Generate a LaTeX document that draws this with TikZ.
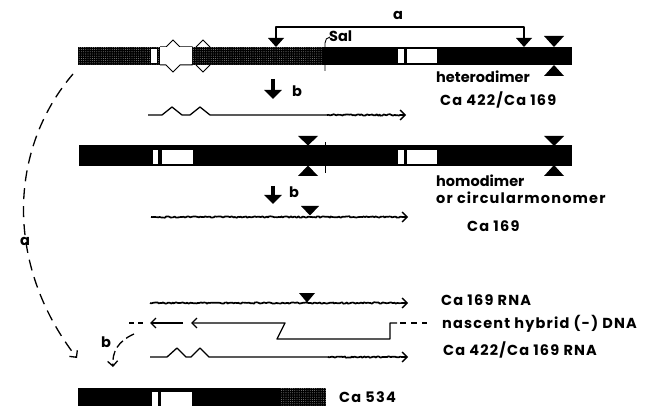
\documentclass[tikz,border=0pt]{standalone}
\usepackage{fontspec}
\setmainfont{Poppins}
\newfontfamily\widefont[LetterSpace=8]{Poppins}
\usetikzlibrary{arrows.meta,decorations.pathmorphing,patterns.meta}
\begin{document}
\begin{tikzpicture}[x=1pt,y=-1pt,
  conn/.style={line width=1.3pt, line join=round},
  tip/.style={-{Straight Barb[length=5pt,width=10pt,line width=1.3pt]}},
  wavy/.style={conn, line width=1.7pt, decorate, decoration={random steps, segment length=1.5pt, amplitude=0.7pt, post length=6pt}},
  bigarr/.style={line width=3.6pt, -{Triangle[length=9pt,width=17pt]}},
  stip/.style={fill=black, postaction={pattern={Dots[distance=2.2pt,radius=0.32pt]}, pattern color=white}},
  lab/.style={font=\bfseries\fontsize{14.5}{16}\selectfont, inner sep=0pt, anchor=base west},
  labw/.style={font=\widefont\bfseries\fontsize{14.5}{16}\selectfont, inner sep=0pt, anchor=base west},
  dashcurve/.style={conn, dash pattern=on 11pt off 7pt},
  trimark/.style={fill=black},
  win/.style={fill=white}
]
\pgfmathsetseed{7}
\useasboundingbox (0,0) rectangle (645,406);

% ---------- top bar (heterodimer)
\fill[stip] (78,47) rectangle (323,65);
\fill[black] (323,47) rectangle (572,65);
\fill[win] (151,49) rectangle (157,63);
\filldraw[fill=white, draw=black, line width=1pt] (160,47) -- (166,47) -- (173,40) -- (180,47) -- (192,47) -- (192,65) -- (180,65) -- (173,72) -- (166,65) -- (160,65);
\fill[white] (160,47.5) rectangle (192,64.5);
\draw[line width=1pt] (196,47) -- (203,40) -- (210,47);
\draw[line width=1pt] (196,65) -- (203,72) -- (210,65);
\fill[win] (398,49) rectangle (404,63);
\fill[win] (407,49) rectangle (437,63);
% Sal
\draw[line width=0.9pt] (325,71) -- (325,43) to[out=90,in=180] (330,37);
\node[lab] (sal) at (329,42) {Sal};
% a bracket
\draw[conn] (276,40) -- (276,27) -- (524,27) -- (524,40);
\fill[trimark] (268,38) -- (284,38) -- (276,47) -- cycle;
\fill[trimark] (516,38) -- (532,38) -- (524,47) -- cycle;
\node[lab, anchor=base] (la) at (398,20) {a};
% bowtie
\fill[trimark] (544,36) -- (564,36) -- (554,47) -- cycle;
\fill[trimark] (544,76) -- (564,76) -- (554,65) -- cycle;
\node[lab] (het) at (436,83) {heterodimer};
\node[labw] (het2) at (440,106) {Ca 422/Ca 169};

% arrow b 1
\coordinate (b1s) at (273,79);
\coordinate (b1e) at (273,99);
\draw[bigarr] (b1s) -- (b1e);
\node[lab] (lb1) at (292,97) {b};

% line 2
\draw[conn] (148,115) -- (162,115) -- (172,107) -- (182,115) -- (190,115) -- (200,107) -- (210,115) -- (328,115);
\draw[wavy, tip] (327,115) -- (406,115);

% ---------- bar 2 (homodimer)
\fill[black] (79,145) rectangle (572,166);
\fill[win] (153,150) rectangle (158,164.5);
\fill[win] (162,150) rectangle (193,164.5);
\fill[win] (398,150) rectangle (404,164.5);
\fill[win] (407,150) rectangle (437,164.5);
\fill[trimark] (298,136) -- (318,136) -- (308,145.5) -- cycle;
\fill[trimark] (298,176) -- (318,176) -- (308,165.5) -- cycle;
\draw[line width=0.9pt] (325,142) -- (325,173);
\fill[trimark] (544,136) -- (564,136) -- (554,146) -- cycle;
\fill[trimark] (544,176) -- (564,176) -- (554,165) -- cycle;
\node[lab] (hom) at (436,187) {homodimer};
\node[labw] (circ) at (436,204) {or circularmonomer};
\node[labw] (ca169) at (467,232) {Ca 169};

% arrow b 2
\coordinate (b2s) at (273,186);
\coordinate (b2e) at (273,204);
\draw[bigarr] (b2s) -- (b2e);
\node[lab] (lb2) at (289,198) {b};

% line 3
\draw[wavy, tip] (151,217) -- (408,217);
\fill[trimark] (301,206) -- (319,206) -- (310,215.5) -- cycle;

% ---------- bottom lines
\draw[wavy, tip] (150,303) -- (408,303);
\fill[trimark] (299,293) -- (315,293) -- (307,302.5) -- cycle;
\node[labw] (rna1) at (441,305) {Ca 169 RNA};

\draw[conn, tip] (183,323) -- (150,323);
\draw[conn, tip] (397,323) -- (390,323) -- (390,339) -- (277,339) -- (285,323) -- (191,323);
\draw[conn, dash pattern=on 6pt off 5pt] (400,323) -- (427,323);
\draw[conn, dash pattern=on 5pt off 4pt] (129,323) -- (146,323);
\node[labw] (nasc) at (442,328) {nascent hybrid (-) DNA};

\draw[conn] (150,357) -- (167,357) -- (177,348) -- (186,357) -- (191,357) -- (200,348) -- (209,357) -- (329,357);
\draw[wavy, tip] (328,357) -- (408,357);
\node[labw] (rna2) at (443,355) {Ca 422/Ca 169 RNA};

% ---------- bottom bar Ca 534
\fill[black] (78,388) rectangle (280,408);
\fill[stip] (280,388) rectangle (326,408);
\fill[win] (152,392) rectangle (158,408);
\fill[win] (161,392) rectangle (192,408);
\node[labw] (ca534) at (339,402) {Ca 534};

% ---------- dashed curves
\coordinate (as) at (73,74);
\coordinate (ae) at (77,358);
\draw[dashcurve, tip] (as) .. controls (8,150) and (5,265) .. (ae);
\node[lab, anchor=base] (lba) at (25,245) {a};

\coordinate (bs) at (134,334);
\coordinate (be) at (113,367);
\draw[conn, dash pattern=on 9pt off 4pt, tip] (bs) .. controls (118,341) and (112,352) .. (be);
\node[lab, anchor=base] (lbb) at (106,347) {b};
\end{tikzpicture}
\end{document}
